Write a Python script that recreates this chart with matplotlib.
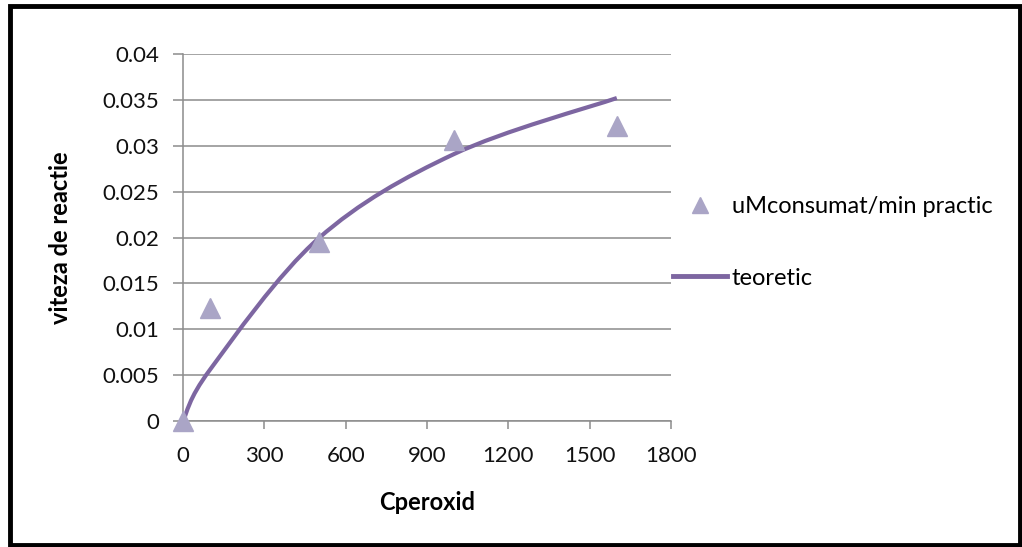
import numpy as np
import matplotlib
matplotlib.use('Agg')
import matplotlib.pyplot as plt
from matplotlib.path import Path
from matplotlib.patches import PathPatch, Rectangle
from matplotlib.lines import Line2D

plt.rcParams['font.family'] = ['Lato', 'DejaVu Sans']

# data
c_peroxid = [0, 100, 500, 1000, 1600]
v_practic = [0, 0.0123, 0.0195, 0.0306, 0.0322]
v_teoretic = [0, 0.0056, 0.0199, 0.0291, 0.0352]
x_ticks = [0, 300, 600, 900, 1200, 1500, 1800]
y_ticks = [0, 0.005, 0.01, 0.015, 0.02, 0.025, 0.03, 0.035, 0.04]
y_tick_labels = ['0', '0.005', '0.01', '0.015', '0.02', '0.025', '0.03', '0.035', '0.04']

tri_color = '#aaa5c6'
line_color = '#7d66a1'
grid_color = '#8c8c8c'


def smooth_path(xs, ys, t=1/6.):
    # excel-like smoothed line: cubic bezier through the points
    pts = np.column_stack([xs, ys]).astype(float)
    n = len(pts)
    verts = [pts[0]]
    codes = [Path.MOVETO]
    for i in range(n - 1):
        p0 = pts[i - 1] if i > 0 else pts[i]
        p1 = pts[i]
        p2 = pts[i + 1]
        p3 = pts[i + 2] if i + 2 < n else pts[i + 1]
        c1 = p1 + (p2 - p0) * t
        c2 = p2 - (p3 - p1) * t
        verts += [c1, c2, p2]
        codes += [Path.CURVE4] * 3
    return Path(verts, codes)


fig = plt.figure(figsize=(10.22, 5.47), dpi=100)
ax = fig.add_axes([0.179, 0.2303, 0.4776, 0.671])

ax.set_xlim(0, 1800)
ax.set_ylim(0, 0.04)
ax.set_xticks(x_ticks)
ax.set_xticklabels([str(v) for v in x_ticks])
ax.set_yticks(y_ticks)
ax.set_yticklabels(y_tick_labels)
ax.yaxis.grid(True, color=grid_color, linewidth=1.1)
ax.set_axisbelow(True)
for s in ['top', 'right']:
    ax.spines[s].set_visible(False)
for s in ['left', 'bottom']:
    ax.spines[s].set_color(grid_color)
    ax.spines[s].set_linewidth(1.1)
ax.tick_params(axis='both', colors=grid_color, width=1.1, labelsize=16,
               labelcolor='#111111')
ax.tick_params(axis='y', length=7, pad=10)
ax.tick_params(axis='x', length=6, pad=12)

patch = PathPatch(smooth_path(c_peroxid, v_teoretic), facecolor='none',
                  edgecolor=line_color, linewidth=3, capstyle='butt', zorder=3, clip_on=False)
ax.add_patch(patch)
ax.plot(c_peroxid, v_practic, linestyle='none', marker='^', markersize=14,
        color=tri_color, zorder=4, clip_on=False)

ax.set_xlabel('Cperoxid', fontsize=17, fontweight='bold', labelpad=18)
ax.set_ylabel('viteza de reactie', fontsize=17, fontweight='bold', labelpad=22)

handles = [Line2D([], [], linestyle='none', marker='^', markersize=12, color=tri_color),
           Line2D([], [], color=line_color, linewidth=3.5)]
fig.legend(handles, ['uMconsumat/min practic', 'teoretic'], loc='upper left',
           bbox_to_anchor=(661 / 1022, 1 - 184 / 547), frameon=False, fontsize=17,
           handlelength=2.3, handletextpad=0.2, labelspacing=2.15, borderpad=0)

fig.patches.append(Rectangle((10 / 1022, 2 / 547), 1010 / 1022, 539 / 547,
                             transform=fig.transFigure, fill=False,
                             edgecolor='black', linewidth=3.5))

fig.savefig('out.png', dpi=100)
